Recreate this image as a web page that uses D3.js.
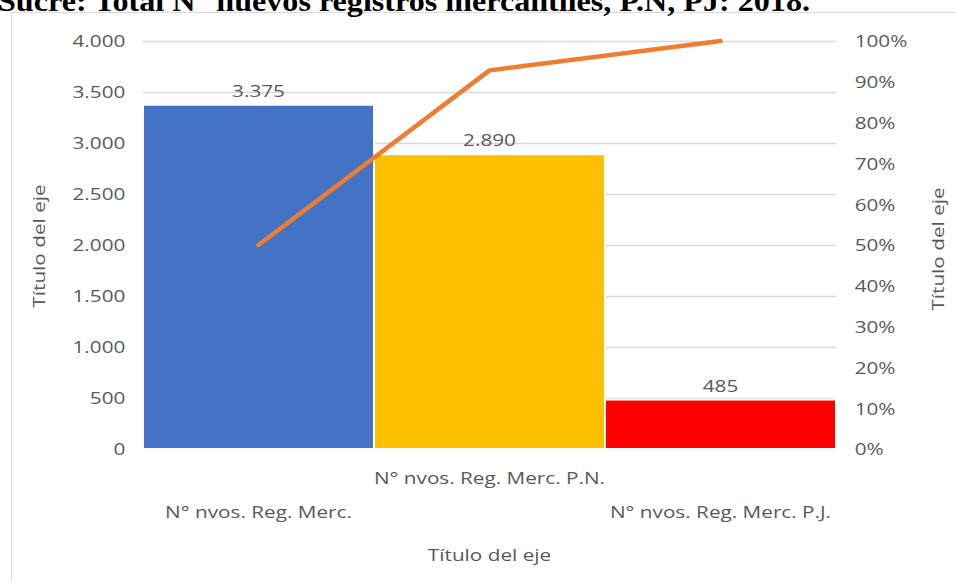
<!DOCTYPE html>
<html>
<head>
<meta charset="utf-8">
<script src="https://cdn.jsdelivr.net/npm/d3@7"></script>
<style>
  body { margin: 0; background: #fff; }
  svg text { font-family: "Open Sans", "Noto Sans", sans-serif; fill: #595959; font-size: 17px; }
</style>
</head>
<body>
<div id="chart"></div>
<script>
// Chart data
const categories = ['N° nvos. Reg. Merc.', 'N° nvos. Reg. Merc. P.N.', 'N° nvos. Reg. Merc. P.J.']
const values = [3375, 2890, 485]
const valueLabels = ['3.375', '2.890', '485']
const cumulative = [0.50, 0.928, 1.0]
const barColors = ['#4472C4', '#FFC000', '#FF0000']
const leftTicks = [0, 500, 1000, 1500, 2000, 2500, 3000, 3500, 4000]
const rightTicks = [0, 0.1, 0.2, 0.3, 0.4, 0.5, 0.6, 0.7, 0.8, 0.9, 1.0]
const titleText = 'Sucre: Total N° nuevos registros mercantiles, P.N, PJ: 2018.'
const axisTitle = 'Título del eje'

const width = 956
const height = 581
const plot = { left: 143, right: 836, top: 41, bottom: 449 }
// the original text is drawn wider than it is tall
const sx = 1.22

const svg = d3.select('#chart')
  .append('svg')
  .attr('width', width)
  .attr('height', height)

// Outer chart frame (runs past the picture)
svg.append('rect')
  .attr('x', 11.5).attr('y', 12.5)
  .attr('width', 960).attr('height', 600)
  .attr('fill', 'none')
  .attr('stroke', '#d9d9d9')

// Title, cut off at the top
svg.append('text')
  .text(titleText)
  .attr('x', -2)
  .attr('y', 11)
  .attr('textLength', 812)
  .attr('lengthAdjust', 'spacingAndGlyphs')
  .style('font-family', '"Liberation Serif", "Times New Roman", serif')
  .style('font-weight', 'bold')
  .style('font-size', '30px')
  .style('fill', '#000')

// Scales
const x = d3.scaleBand().domain(categories).range([plot.left, plot.right]).padding(0)
const y = d3.scaleLinear().domain([0, 4000]).range([plot.bottom, plot.top])
const y2 = d3.scaleLinear().domain([0, 1]).range([plot.bottom, plot.top])
const cx = c => x(c) + x.bandwidth() / 2

// Gridlines
svg.append('g')
  .selectAll('line')
  .data(leftTicks)
  .enter().append('line')
  .attr('x1', plot.left).attr('x2', plot.right)
  .attr('y1', d => Math.round(y(d)) + 0.5).attr('y2', d => Math.round(y(d)) + 0.5)
  .attr('stroke', '#d9d9d9')
  .attr('stroke-width', 1.3)

// Left axis
const leftAxis = svg.append('g')
  .attr('transform', `translate(${plot.left - 14}, 0)`)
  .call(d3.axisLeft(y).tickValues(leftTicks).tickSize(0)
    .tickFormat(d => d3.format(',')(d).replace(/,/g, '.')))
leftAxis.select('.domain').remove()
leftAxis.selectAll('text')
  .attr('dy', '0.35em')
  .attr('transform', `scale(${sx},1)`)
  .style('font-size', null)
  .attr('font-size', null)
leftAxis.attr('font-family', null).attr('font-size', null)

// Right axis
const rightAxis = svg.append('g')
  .attr('transform', `translate(${plot.right + 15}, 0)`)
  .call(d3.axisRight(y2).tickValues(rightTicks).tickSize(0).tickFormat(d3.format('.0%')))
rightAxis.select('.domain').remove()
rightAxis.selectAll('text')
  .attr('dy', '0.35em')
  .attr('transform', `scale(${sx},1)`)
rightAxis.attr('font-family', null).attr('font-size', null)

// Bars
svg.append('g')
  .selectAll('rect')
  .data(values)
  .enter().append('rect')
  .attr('x', (d, i) => x(categories[i]))
  .attr('y', d => y(d))
  .attr('width', x.bandwidth())
  .attr('height', d => y(0) - y(d))
  .attr('fill', (d, i) => barColors[i])
  .attr('stroke', '#fff')
  .attr('stroke-width', 2)

// Value labels
svg.append('g')
  .selectAll('text')
  .data(values)
  .enter().append('text')
  .text((d, i) => valueLabels[i])
  .attr('transform', (d, i) => `translate(${cx(categories[i])}, ${y(d) - 8}) scale(${sx},1)`)
  .attr('text-anchor', 'middle')

// Cumulative line
const line = d3.line()
  .x((d, i) => cx(categories[i]))
  .y(d => y2(d))
svg.append('path')
  .datum(cumulative)
  .attr('d', line)
  .attr('fill', 'none')
  .attr('stroke', '#ED7D31')
  .attr('stroke-width', 4.5)
  .attr('stroke-linecap', 'round')
  .attr('stroke-linejoin', 'round')

// Category labels (staggered)
svg.append('g')
  .selectAll('text')
  .data(categories)
  .enter().append('text')
  .text(d => d)
  .attr('transform', (d, i) => `translate(${cx(d)}, ${i % 2 === 1 ? 484 : 518}) scale(${sx},1)`)
  .attr('text-anchor', 'middle')

// Axis titles
svg.append('text')
  .text(axisTitle)
  .attr('transform', `translate(${(plot.left + plot.right) / 2}, 561) scale(${sx},1)`)
  .attr('text-anchor', 'middle')

svg.append('text')
  .text(axisTitle)
  .attr('transform', `translate(45, 246) rotate(-90) scale(${sx},1)`)
  .attr('text-anchor', 'middle')

svg.append('text')
  .text(axisTitle)
  .attr('transform', `translate(944, 249) rotate(-90) scale(${sx},1)`)
  .attr('text-anchor', 'middle')
</script>
</body>
</html>
